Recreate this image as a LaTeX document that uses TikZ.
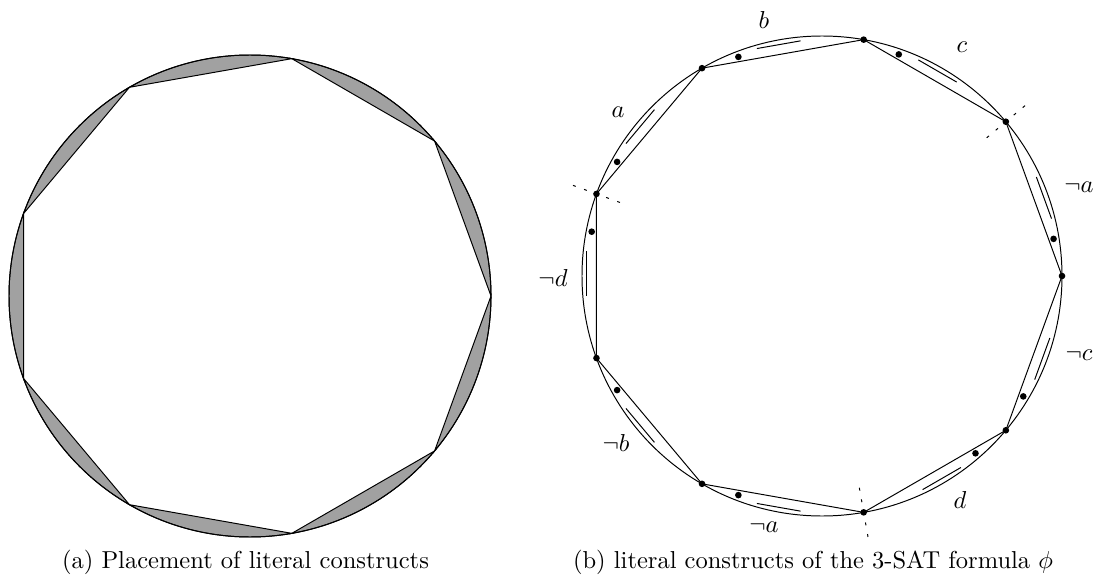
\documentclass[tikz,border=0pt]{standalone}
\usetikzlibrary{calc}
\begin{document}
\begin{tikzpicture}[x=0.40816pt,y=0.40816pt,
  seg/.style={fill=black!37, draw=black, line width=0.4pt},
  vdot/.style={circle, fill=black, inner sep=0pt, minimum size=2.7pt},
  mdot/.style={circle, fill=black, inner sep=0pt, minimum size=2.7pt},
  sepline/.style={dash pattern=on 1.2pt off 3.6pt, line width=0.4pt},
  lit/.style={inner sep=0pt},
  capt/.style={inner sep=0pt}
]
\useasboundingbox (0,0) rectangle (1094,577);
% ---------- left panel ----------
\coordinate (L) at (250,281);
\foreach \k in {0,...,8}{
  \pgfmathsetmacro\sa{40*\k}
  \pgfmathsetmacro\ea{40*\k+40}
  \path[seg] ($(L)+(\sa:241)$) arc[start angle=\sa, end angle=\ea, radius=241] -- cycle;
}
\draw (L) circle[radius=241];
\node[capt] (capa) at (245.5,15) {(a) Placement of literal constructs};
% ---------- right panel ----------
\coordinate (R) at (822,301);
\draw (R) circle[radius=240];
\foreach \k in {0,...,8}{
  \coordinate (v\k) at ($(R)+({40*\k}:240)$);
}
\draw (v0) -- (v1) -- (v2) -- (v3) -- (v4) -- (v5) -- (v6) -- (v7) -- (v8) -- cycle;
\foreach \al/\s in {160/1,120/1,80/1,40/-1,0/-1,-40/1,-80/-1,-120/-1,-160/-1}{
  \pgfmathsetmacro\mu{\al-20}
  \pgfmathsetmacro\mup{\al+70}
  \node[mdot] at ($(R)+(\mu:230.3)+(\mup:{44.3*\s})$) {};
  \draw ($(R)+(\mu:235.3)+(\mup:{24.6*\s})$) -- ($(R)+(\mu:235.3)+(\mup:{-19.7*\s})$);
}
\foreach \al in {160,40,-80}{
  \draw[sepline] ($(R)+(\al:215)$) -- ($(R)+(\al:266)$);
}
\foreach \k in {0,...,8}{
  \node[vdot] (d\k) at (v\k) {};
}
\node[lit] (la)  at (618,465) {$a$};
\node[lit] (lb)  at (764,557) {$b$};
\node[lit] (lc)  at (962,530) {$c$};
\node[lit] (lna) at (1079,390) {$\neg a$};
\node[lit] (lnc) at (1079,222) {$\neg c$};
\node[lit] (ld)  at (960,77) {$d$};
\node[lit] (lna2) at (764,50) {$\neg a$};
\node[lit] (lnb) at (616,134) {$\neg b$};
\node[lit] (lnd) at (553,299) {$\neg d$};
\node[capt] (capb) at (813,15) {(b) literal constructs of the 3-SAT formula $\phi$};
\end{tikzpicture}
\end{document}
